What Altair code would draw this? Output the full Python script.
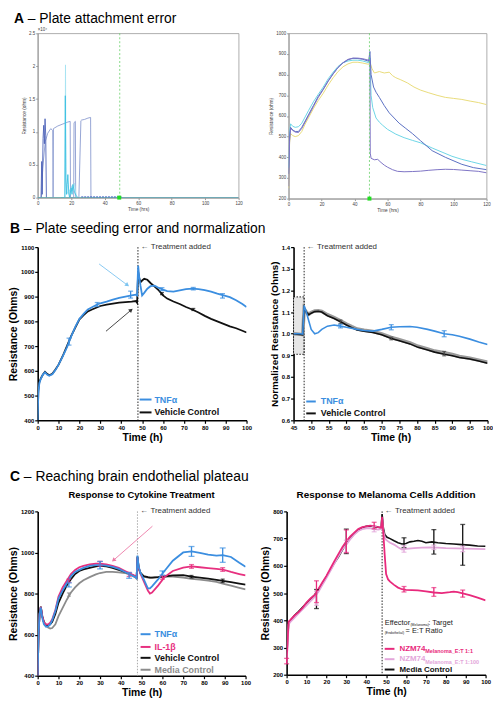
import altair as alt
import pandas as pd

FONT = "Liberation Sans"
BLUE = "#3b8ee0"
BLACK = "#111111"
PINK = "#e7307f"
GRAY = "#8c8c8c"
NZ1 = "#e8297c"
NZ100 = "#e3a6da"

# ---------------- Panel A left (x 10^4 ohm) ----------------
A1_slate_t = [0, 2.2, 3.0, 4.5, 6, 7.8, 9.0, 9.2, 9.4, 12, 15, 18, 19.4, 19.6, 21.5, 21.7, 22.5, 22.7, 24.6, 25.8, 26.2, 28, 30, 31.6, 31.8, 120]
A1_slate_v = [0, 0, 0.45, 0.85, 0.98, 1.05, 1.02, 0, 1.05, 1.09, 1.12, 1.15, 1.16, 0, 0, 1.14, 1.16, 0, 0, 1.17, 1.18, 1.19, 1.21, 1.22, 0, 0]
A1_dark_t = [2.0, 2.4, 2.7, 3.2, 3.6, 4.0, 4.4, 4.8, 5.2]
A1_dark_v = [0, 0.55, 0.05, 0.9, 1.1, 0.82, 1.2, 0.95, 0]
A1_cyan_t = [14, 16.2, 16.5, 16.8, 17.2, 17.6, 18, 18.5, 19, 20, 20.5, 21, 22, 23, 24]
A1_cyan_v = [0, 0, 1.55, 0.3, 0.05, 0.2, 0.35, 0.1, 0, 0.15, 0.05, 0.2, 0.08, 0.03, 0]
A1_lcyan_t = [15.5, 16.3, 16.6, 16.9, 17.5, 18.2, 19, 19.5, 20.2, 21, 22, 23]
A1_lcyan_v = [0, 0, 2.02, 0.25, 0.1, 0.05, 0.12, 0.05, 0.18, 0.1, 0.22, 0]
A1_base_t = [0, 120]
A1_base_v = [0, 0]
A1_bblue_t = [26, 50]
A1_bblue_v = [0.01, 0.01]

# ---------------- Panel A right (ohm) ----------------
A2_pre_t = [0, 0.6, 1.2, 2.5, 4, 6, 8, 10, 12, 15, 18, 21, 24, 27, 30, 33, 36, 39, 42, 45, 48.5]
A2_blue_pre = [320, 500, 545, 532, 525, 525, 545, 575, 605, 650, 695, 730, 770, 805, 835, 857, 872, 879, 878, 874, 865]
A2_purple_pre = [260, 480, 540, 530, 522, 520, 540, 570, 600, 645, 690, 728, 768, 803, 835, 858, 874, 880, 880, 877, 870]
A2_cyan_pre = [350, 520, 562, 550, 545, 548, 565, 595, 625, 668, 705, 740, 780, 812, 840, 858, 866, 870, 870, 866, 858]
A2_yellow_pre = [250, 470, 515, 505, 500, 505, 525, 560, 590, 635, 675, 710, 750, 785, 815, 838, 852, 860, 860, 856, 850]
A2_blue_post_t = [49.3, 50, 51.5, 53, 55, 58, 61, 64, 67, 71, 75, 80, 87, 95, 105, 112, 120]
A2_blue_post = [912, 800, 740, 715, 690, 650, 615, 590, 565, 540, 515, 480, 432, 400, 366, 350, 340]
A2_cyan_post_t = [49.3, 50, 51, 53, 55, 57, 60, 65, 70, 75, 80, 87, 93, 99, 105, 111, 120]
A2_cyan_post = [880, 700, 640, 590, 570, 555, 535, 512, 495, 482, 470, 445, 425, 405, 390, 378, 360]
A2_yellow_post_t = [49.3, 50.5, 52, 55, 58, 61, 63, 65, 68, 72, 76, 80, 85, 90, 95, 100, 105, 110, 115, 120]
A2_yellow_post = [860, 830, 808, 815, 808, 812, 795, 785, 775, 760, 740, 725, 712, 700, 690, 685, 680, 672, 665, 655]
A2_purple_post_t = [49.3, 49.5, 50, 52, 54, 56, 58, 60, 63, 66, 70, 75, 80, 85, 90, 95, 100, 105, 110, 115, 120]
A2_purple_post = [870, 420, 395, 388, 390, 375, 362, 352, 340, 332, 330, 331, 333, 337, 340, 342, 341, 338, 335, 332, 325]

# ---------------- Panel B left (ohm) ----------------
B1_t = [0, 0.3, 0.8, 1.5, 2.5, 3.5, 4.5, 5.5, 7, 8.5, 10, 12, 14, 16, 18, 20, 22, 24, 26, 28, 30, 33, 36, 39, 42,
        45, 47, 47.6, 48.1, 48.6, 49.2, 50, 51, 52.5, 54, 56, 58, 60, 62, 65, 68, 71, 74, 77, 80, 83, 86, 89, 92, 95, 98, 100]
B1_vehicle = [400, 520, 555, 570, 585, 596, 588, 582, 588, 605, 625, 660, 700, 740, 775, 808, 825, 840, 848, 855, 862, 868, 872, 876, 878,
              880, 882, 875, 1000, 975, 958, 965, 972, 968, 955, 940, 925, 905, 892, 880, 870, 858, 848, 836, 822, 810, 800, 790, 780, 772, 762, 755]
B1_tnf = [400, 510, 550, 568, 585, 594, 585, 580, 586, 603, 625, 658, 695, 738, 778, 810, 830, 848, 857, 866, 873, 880, 888, 895, 900,
          905, 908, 905, 1025, 980, 945, 905, 915, 932, 942, 944, 935, 928, 922, 920, 925, 930, 932, 930, 926, 920, 912, 905, 898, 885, 870, 858]
B1_tnf_err_t = [15, 28.5, 44.5, 59.5, 74.5, 88.5]
B1_tnf_err_lo = [704, 860, 894, 924, 927, 894]
B1_tnf_err_hi = [732, 876, 922, 936, 937, 912]
B1_veh_err_t = [59.5, 74.5]
B1_veh_err_lo = [908, 844]
B1_veh_err_hi = [916, 852]

# ---------------- Panel B right (normalized) ----------------
B2_veh_t = [45, 46, 47, 47.6, 48, 48.6, 49.3, 50, 51, 52, 53, 54.6, 56.5, 58.3, 60, 61.5, 63, 65, 67.5, 70, 72.7, 75, 78, 80.3, 83, 85, 87.7, 90, 92, 95, 97.5, 100]
B2_veh_v = [1.0, 0.998, 0.996, 0.995, 1.12, 1.1, 1.088, 1.095, 1.102, 1.104, 1.1, 1.083, 1.07, 1.055, 1.04, 1.028, 1.017, 1.012, 1.006, 0.995, 0.978, 0.968, 0.953, 0.937, 0.925, 0.915, 0.905, 0.898, 0.89, 0.883, 0.874, 0.864]
B2_veh_shadow = [1.0, 0.999, 0.997, 0.996, 1.115, 1.1, 1.09, 1.098, 1.105, 1.106, 1.103, 1.088, 1.075, 1.06, 1.045, 1.033, 1.022, 1.016, 1.01, 0.999, 0.983, 0.972, 0.958, 0.942, 0.93, 0.92, 0.912, 0.904, 0.895, 0.887, 0.878, 0.868]
B2_tnf_t = [45, 46, 47, 47.6, 48, 48.6, 49.3, 50, 51, 52, 53, 54.6, 56.5, 58.3, 60, 63, 65, 67.5, 70, 72.7, 75, 78, 80, 83, 85, 87.7, 90, 92, 95, 97.5, 100]
B2_tnf_v = [1.0, 1.0, 1.0, 0.998, 1.13, 1.1, 1.06, 1.02, 1.0, 1.005, 1.02, 1.035, 1.04, 1.035, 1.03, 1.02, 1.015, 1.012, 1.02, 1.03, 1.032, 1.033, 1.03, 1.02, 1.012, 1.0, 0.995, 0.988, 0.975, 0.962, 0.95]
B2_err_t = [58.3, 72.7, 87.7]
B2_tnf_lo = [1.027, 1.018, 0.986]
B2_tnf_hi = [1.043, 1.042, 1.014]
B2_veh_lo = [1.047, 0.972, 0.898]
B2_veh_hi = [1.063, 0.984, 0.918]
B2_box_x = [45, 48]
B2_box_y = [0.905, 1.17]

# ---------------- Panel C left (ohm) ----------------
C1_t = [0, 0.4, 0.9, 1.5, 2.2, 3, 4, 5, 6, 7, 8.5, 10, 12, 14, 16, 18, 20, 22, 25, 28, 30, 33, 36, 39, 42, 45, 47, 47.6,
        48, 48.6, 49.5, 51, 53, 54, 55, 58, 61, 65, 70, 74, 78, 82, 86, 89, 93, 97, 100]
C1_vehicle = [400, 600, 700, 735, 690, 660, 648, 645, 650, 662, 700, 755, 800, 840, 870, 895, 910, 918, 925, 932, 935, 932, 925, 915, 905, 893, 883, 878,
              980, 925, 900, 885, 880, 878, 878, 880, 883, 888, 890, 882, 878, 873, 867, 862, 855, 848, 843]
C1_media = [400, 600, 700, 738, 690, 660, 645, 635, 630, 632, 650, 690, 730, 770, 805, 830, 850, 865, 880, 893, 900, 905, 905, 903, 900, 890, 878, 872,
            975, 920, 895, 882, 878, 878, 878, 880, 882, 882, 878, 872, 868, 863, 857, 848, 838, 828, 820]
C1_tnf = [400, 600, 700, 732, 680, 650, 638, 640, 650, 670, 715, 775, 815, 850, 885, 905, 915, 925, 935, 938, 938, 936, 930, 920, 905, 890, 880, 875,
          985, 930, 900, 870, 825, 825, 835, 870, 910, 960, 1000, 1005, 998, 990, 985, 987, 978, 950, 930]
C1_il1 = [400, 600, 700, 735, 690, 660, 650, 650, 658, 675, 720, 785, 830, 862, 895, 915, 928, 935, 942, 945, 945, 942, 935, 925, 910, 895, 885, 880,
          975, 925, 895, 860, 815, 800, 805, 840, 880, 910, 926, 932, 928, 924, 920, 917, 905, 895, 888]
C1_err_t = [15, 30, 44, 60, 74, 89]
C1_tnf_lo = [832, 920, 874, 890, 981, 952]
C1_tnf_hi = [852, 956, 902, 910, 1029, 1022]
C1_il1_lo = [854, 933, 883, 870, 923, 908]
C1_il1_hi = [870, 957, 903, 886, 941, 926]
C1_veh_err_t = [74, 89]
C1_veh_lo = [876, 854]
C1_veh_hi = [888, 870]
C1_med_err_t = [15]
C1_med_lo = [787]
C1_med_hi = [803]

# ---------------- Panel C right (ohm) ----------------
C2_media_t = [0, 0.5, 1, 2, 4, 6, 8, 10, 12, 14, 16, 18, 20, 22, 24, 26, 28, 30, 32, 34, 36, 38, 40, 42, 44, 46, 47.5, 48, 48.6, 49.3,
              50.5, 52, 54, 56, 58, 60, 62, 64, 66, 68, 70, 73, 76, 80, 84, 88, 92, 96, 100]
C2_media_v = [250, 330, 390, 400, 418, 432, 448, 463, 478, 493, 512, 535, 560, 585, 610, 632, 658, 683, 700, 718, 730, 740, 745, 746, 744, 742, 740, 790, 740, 715,
              705, 700, 692, 685, 680, 682, 688, 690, 693, 690, 685, 688, 685, 682, 680, 678, 676, 673, 672]
C2_nz1_t = [0, 1, 2, 4, 6, 8, 10, 12, 14, 16, 18, 20, 22, 24, 26, 28, 30, 32, 34, 36, 38, 40, 42, 44, 46, 47.5, 48, 48.6, 49.3, 50,
            51, 52, 54, 56, 58, 60, 63, 66, 70, 74, 78, 82, 84, 86, 89, 92, 96, 100]
C2_nz1_v = [250, 395, 402, 418, 430, 445, 465, 480, 492, 515, 540, 563, 590, 617, 643, 668, 690, 708, 722, 735, 742, 745, 748, 746, 742, 740, 780, 720, 640, 570,
            550, 542, 530, 520, 514, 512, 511, 510, 506, 502, 500, 503, 505, 503, 498, 492, 483, 473]
C2_nz100_t = [0, 1, 2, 4, 6, 8, 10, 12, 14, 16, 18, 20, 22, 24, 26, 28, 30, 32, 34, 36, 38, 40, 42, 44, 46, 47.5, 48, 48.6, 49.3, 50,
              52, 54, 56, 58, 60, 64, 68, 72, 76, 80, 85, 90, 95, 100]
C2_nz100_v = [240, 385, 395, 410, 425, 440, 455, 470, 485, 505, 530, 555, 582, 608, 635, 660, 678, 698, 715, 728, 735, 738, 738, 735, 733, 735, 770, 730, 705, 695,
              685, 678, 668, 660, 662, 665, 667, 668, 667, 665, 664, 663, 662, 661]
C2_nz1_err_t = [0, 15, 30, 44, 59, 74, 88.5]
C2_nz1_lo = [240, 465, 648, 736, 504, 488, 485]
C2_nz1_hi = [260, 545, 732, 760, 524, 520, 511]
C2_nz100_err_t = [15, 30, 44, 59, 74, 88.5]
C2_nz100_lo = [455, 650, 725, 650, 660, 652]
C2_nz100_hi = [505, 694, 745, 674, 676, 672]
C2_med_err_t = [15, 30, 59, 74, 88.5]
C2_med_lo = [443, 645, 667, 643, 602]
C2_med_hi = [513, 735, 703, 733, 752]


# ================= helpers =================
def make_xy(xdom, ydom, xaxis, yaxis):
    xs = alt.Scale(domain=xdom, nice=False, zero=False)
    ys = alt.Scale(domain=ydom, nice=False, zero=False)

    def X(f):
        return alt.X(f, type="quantitative", scale=xs, axis=xaxis)

    def Y(f):
        return alt.Y(f, type="quantitative", scale=ys, axis=yaxis)
    return X, Y


def line(t, v, color, width, X, Y, dash=None, opacity=1.0):
    df = pd.DataFrame({"t": t, "v": v, "i": list(range(len(t)))})
    kw = dict(color=color, strokeWidth=width, clip=True, opacity=opacity)
    if dash:
        kw["strokeDash"] = dash
    return alt.Chart(df).mark_line(**kw).encode(x=X("t"), y=Y("v"), order="i:Q")


def errbars(t, lo, hi, color, X, Y, cap=5, width=1.3):
    df = pd.DataFrame({"t": t, "lo": lo, "hi": hi})
    bar = alt.Chart(df).mark_rule(color=color, strokeWidth=width).encode(x=X("t"), y=Y("lo"), y2="hi:Q")
    c1 = alt.Chart(df).mark_tick(color=color, orient="horizontal", size=cap, thickness=width).encode(x=X("t"), y=Y("lo"))
    c2 = alt.Chart(df).mark_tick(color=color, orient="horizontal", size=cap, thickness=width).encode(x=X("t"), y=Y("hi"))
    return [bar, c1, c2]


def treatment(tval, yval, X, Y, color="#222"):
    df = pd.DataFrame({"t": [tval], "v": [yval], "label": ["← Treatment added"]})
    rule = alt.Chart(df).mark_rule(color=color, strokeDash=[1.5, 1.5], strokeWidth=1).encode(x=X("t"))
    txt = alt.Chart(df).mark_text(align="left", baseline="middle", dx=3, fontSize=8, color="#333").encode(
        x=X("t"), y=Y("v"), text="label:N")
    return [rule, txt]


def arrow(x1, y1, x2, y2, ang, color, X, Y):
    df = pd.DataFrame({"x1": [x1], "y1": [y1], "x2": [x2], "y2": [y2], "ang": [ang]})
    r = alt.Chart(df).mark_rule(color=color, strokeWidth=0.9).encode(x=X("x1"), y=Y("y1"), x2="x2:Q", y2="y2:Q")
    h = alt.Chart(df).mark_point(shape="triangle", filled=True, size=22, color=color, opacity=1).encode(
        x=X("x2"), y=Y("y2"), angle=alt.Angle("ang:Q", scale=None))
    return [r, h]


def legend(x1, x2, xt, ys, labels, colors, X, Y, size=9):
    df = pd.DataFrame({"x1": [x1] * len(ys), "x2": [x2] * len(ys), "xt": [xt] * len(ys), "y": ys,
                       "label": labels, "col": colors})
    r = alt.Chart(df).mark_rule(strokeWidth=2).encode(x=X("x1"), x2="x2:Q", y=Y("y"),
                                                       color=alt.Color("col:N", scale=None))
    t = alt.Chart(df).mark_text(align="left", baseline="middle", fontWeight="bold", fontSize=size).encode(
        x=X("xt"), y=Y("y"), text="label:N", color=alt.Color("col:N", scale=None))
    return [r, t]


def section(letter, rest, x, y):
    df = pd.DataFrame({"a": [letter], "b": [rest]})
    a = alt.Chart(df).mark_text(align="left", baseline="alphabetic", fontSize=14, fontWeight="bold",
                                color="black").encode(x=alt.value(x), y=alt.value(y), text="a:N")
    b = alt.Chart(df).mark_text(align="left", baseline="alphabetic", fontSize=14, fontWeight="normal",
                                color="black").encode(x=alt.value(x + 14), y=alt.value(y), text="b:N")
    return [a, b]


def a_axis(title, values, fmt="d"):
    return alt.Axis(title=title, values=values, format=fmt, labelFontSize=4.5, titleFontSize=4.8,
                    labelColor="#444", titleColor="#444", domainColor="#999", tickColor="#999", tickSize=2,
                    labelPadding=1, titlePadding=2, grid=False, titleFontWeight="normal",
                    labelOverlap=False, labelFlush=False)


def bc_axis(title, values, fmt="d", tsize=10.5):
    return alt.Axis(title=title, values=values, format=fmt, labelFontSize=6, labelFontWeight="bold",
                    labelColor="black", titleFontSize=tsize, titleFontWeight="bold", titleColor="black",
                    domainColor="black", domainWidth=1.6, tickColor="black", tickWidth=1.2, tickSize=3,
                    labelPadding=1, titlePadding=2, grid=False, labelOverlap=False, labelFlush=False)


A_FRAME = alt.ViewBackground(stroke="#999999", strokeWidth=0.8)

# ================= Panel A left =================
X, Y = make_xy([0, 120], [0, 2.5], a_axis("Time (hrs)", list(range(0, 121, 20))),
               a_axis("Resistance (ohm)", [0, 0.5, 1, 1.5, 2, 2.5], "~g"))
gA = pd.DataFrame({"t": [49], "v": [0], "m": [48.7], "top": [2.5], "lab": ["×10⁴"]})
layersA1 = [
    line(A1_slate_t, A1_slate_v, "#8a9bd0", 0.9, X, Y),
    line(A1_dark_t, A1_dark_v, "#4d63b8", 0.9, X, Y),
    line(A1_lcyan_t, A1_lcyan_v, "#a6e3f2", 0.9, X, Y),
    line(A1_cyan_t, A1_cyan_v, "#3cc0e2", 0.9, X, Y),
    line(A1_base_t, A1_base_v, "#3aa5a8", 1.2, X, Y),
    line(A1_bblue_t, A1_bblue_v, "#3050c0", 1.0, X, Y, dash=[2, 1]),
    alt.Chart(gA).mark_rule(color="#66d066", strokeDash=[2, 2], strokeWidth=0.8).encode(x=X("t")),
    alt.Chart(gA).mark_square(color="#22dd22", size=16, opacity=1).encode(x=X("m"), y=Y("v")),
    alt.Chart(gA).mark_text(align="left", baseline="bottom", fontSize=4.5, color="#444", dy=-1).encode(
        x=alt.value(0), y=Y("top"), text="lab:N"),
] + section("A", "– Plate attachment error", -24, -10) \
  + section("B", "– Plate seeding error and normalization", -28, 202)
A_left = alt.layer(*layersA1).properties(width=203, height=166, view=A_FRAME)

# ================= Panel A right =================
X, Y = make_xy([0, 120], [200, 1000], a_axis("Time (hrs)", list(range(0, 121, 20))),
               a_axis("Resistance (ohm)", list(range(200, 1001, 100))))
gA2 = pd.DataFrame({"t": [49], "m": [49], "v": [200]})
layersA2 = [
    line(A2_pre_t + A2_yellow_post_t, A2_yellow_pre + A2_yellow_post, "#e9dc7a", 1.0, X, Y),
    line(A2_pre_t + A2_cyan_post_t, A2_cyan_pre + A2_cyan_post, "#6dd6e6", 1.0, X, Y),
    line(A2_pre_t + A2_blue_post_t, A2_blue_pre + A2_blue_post, "#5a6fc2", 1.0, X, Y),
    line(A2_pre_t + A2_purple_post_t, A2_purple_pre + A2_purple_post, "#7d73c4", 1.0, X, Y),
    alt.Chart(gA2).mark_rule(color="#66d066", strokeDash=[2, 2], strokeWidth=0.8).encode(x=X("t")),
    alt.Chart(gA2).mark_square(color="#22dd22", size=16, opacity=1).encode(x=X("m"), y=Y("v")),
]
A_right = alt.layer(*layersA2).properties(width=200, height=167, view=A_FRAME)

# ================= Panel B left =================
X, Y = make_xy([0, 100], [400, 1100], bc_axis("Time (h)", list(range(0, 101, 10))),
               bc_axis("Resistance (Ohms)", list(range(400, 1101, 100))))
layersB1 = treatment(48, 1100, X, Y) + [
    line(B1_t, B1_vehicle, BLACK, 1.8, X, Y),
    line(B1_t, B1_tnf, BLUE, 1.8, X, Y),
] + errbars(B1_veh_err_t, B1_veh_err_lo, B1_veh_err_hi, BLACK, X, Y, cap=4) \
  + errbars(B1_tnf_err_t, B1_tnf_err_lo, B1_tnf_err_hi, BLUE, X, Y, cap=5) \
  + arrow(29.4, 1032, 42.7, 948, 127, "#7cc4f0", X, Y) \
  + arrow(32.7, 760, 44.5, 844, 50, "#333333", X, Y) \
  + legend(48.8, 54.5, 55.9, [484, 432], ["TNFα", "Vehicle Control"], [BLUE, BLACK], X, Y) \
  + section("C", "– Reaching brain endothelial plateau", -28, 236)
B_left = alt.layer(*layersB1).properties(width=211, height=175)

# ================= Panel B right =================
X, Y = make_xy([45, 100], [0.6, 1.4], bc_axis("Time (h)", list(range(45, 101, 5))),
               bc_axis("Normalized Resistance (Ohms)", [0.6, 0.7, 0.8, 0.9, 1.0, 1.1, 1.2, 1.3, 1.4], ".1f", tsize=10))
box = pd.DataFrame({"x1": [B2_box_x[0]], "x2": [B2_box_x[1]], "y1": [B2_box_y[0]], "y2": [B2_box_y[1]]})
layersB2 = [
    alt.Chart(box).mark_rect(fill="#e6e6e6", stroke="black", strokeDash=[1.5, 1.5], strokeWidth=0.9).encode(
        x=X("x1"), x2="x2:Q", y=Y("y1"), y2="y2:Q"),
] + treatment(48, 1.4, X, Y) + [
    line(B2_veh_t, B2_veh_shadow, "#9a9a9a", 3.5, X, Y),
    line(B2_veh_t, B2_veh_v, BLACK, 1.6, X, Y),
    line(B2_tnf_t, B2_tnf_v, BLUE, 1.6, X, Y),
] + errbars(B2_err_t, B2_veh_lo, B2_veh_hi, "#444444", X, Y, cap=4) \
  + errbars(B2_err_t, B2_tnf_lo, B2_tnf_hi, BLUE, X, Y, cap=5) \
  + legend(48.6, 51.3, 52.7, [0.687, 0.632], ["TNFα", "Vehicle Control"], [BLUE, BLACK], X, Y)
B_right = alt.layer(*layersB2).properties(width=196, height=175)

# ================= Panel C left =================
X, Y = make_xy([0, 100], [400, 1200], bc_axis("Time (h)", list(range(0, 101, 10))),
               bc_axis("Resistance (Ohms)", list(range(400, 1201, 200))))
layersC1 = treatment(48, 1200, X, Y, color="#aaaaaa") + [
    line(C1_t, C1_media, GRAY, 1.8, X, Y),
    line(C1_t, C1_vehicle, BLACK, 1.8, X, Y),
    line(C1_t, C1_il1, PINK, 1.8, X, Y),
    line(C1_t, C1_tnf, BLUE, 1.8, X, Y),
] + errbars(C1_med_err_t, C1_med_lo, C1_med_hi, GRAY, X, Y, cap=4) \
  + errbars(C1_veh_err_t, C1_veh_lo, C1_veh_hi, BLACK, X, Y, cap=4) \
  + errbars(C1_err_t, C1_il1_lo, C1_il1_hi, PINK, X, Y, cap=5) \
  + errbars(C1_err_t, C1_tnf_lo, C1_tnf_hi, BLUE, X, Y, cap=6) \
  + arrow(55.2, 1128, 36.7, 964, 229, "#ec7aa6", X, Y) \
  + legend(49.5, 54.3, 56.2, [602, 540, 487, 429], ["TNFα", "IL-1β", "Vehicle Control", "Media Control"],
           [BLUE, PINK, BLACK, GRAY], X, Y)
C_left = alt.layer(*layersC1).properties(
    width=210, height=166,
    title=alt.TitleParams("Response to Cytokine Treatment", fontSize=9.5, fontWeight="bold", anchor="middle",
                          offset=8, color="black"))

# ================= Panel C right =================
X, Y = make_xy([0, 100], [200, 800], bc_axis("Time (h)", list(range(0, 101, 10))),
               bc_axis("Resistance (Ohms)", list(range(200, 801, 100))))
hdr = pd.DataFrame({"x": [49.3], "y1": [389], "y2": [360],
                    "a": ["Effector"], "b": ["(Melanoma)"], "c": [": Target"],
                    "d": ["(Endothelial)"], "e": ["= E:T Ratio"]})


def htext(field, yf, size, dx, dy=0, weight="normal", color="#222"):
    return alt.Chart(hdr).mark_text(align="left", baseline="middle", fontSize=size, dx=dx, dy=dy,
                                    fontWeight=weight, color=color).encode(x=X("x"), y=Y(yf), text=field + ":N")


leg2 = pd.DataFrame({"x1": [49.3, 49.3, 49.3], "x2": [54.2, 54.2, 54.2], "xt": [56.7, 56.7, 56.7],
                     "y": [295, 257, 219], "main": ["NZM74", "NZM74", "Media Control"],
                     "sub": ["Melanoma_E:T 1:1", "Melanoma_E:T 1:100", ""], "col": [NZ1, NZ100, BLACK]})
layersC2 = treatment(48, 800, X, Y) + [
    line(C2_media_t, C2_media_v, BLACK, 1.6, X, Y),
    line(C2_nz100_t, C2_nz100_v, NZ100, 1.8, X, Y),
    line(C2_nz1_t, C2_nz1_v, NZ1, 1.8, X, Y),
] + errbars(C2_med_err_t, C2_med_lo, C2_med_hi, BLACK, X, Y, cap=5) \
  + errbars(C2_nz100_err_t, C2_nz100_lo, C2_nz100_hi, NZ100, X, Y, cap=5) \
  + errbars(C2_nz1_err_t, C2_nz1_lo, C2_nz1_hi, NZ1, X, Y, cap=5) + [
    htext("a", "y1", 7.5, 0),
    htext("b", "y1", 3.5, 26, dy=2),
    htext("c", "y1", 7.5, 44),
    htext("d", "y2", 3.5, 0, dy=2),
    htext("e", "y2", 7.5, 21),
    alt.Chart(leg2).mark_rule(strokeWidth=2).encode(x=X("x1"), x2="x2:Q", y=Y("y"),
                                                     color=alt.Color("col:N", scale=None)),
    alt.Chart(leg2).mark_text(align="left", baseline="middle", fontSize=8, fontWeight="bold").encode(
        x=X("xt"), y=Y("y"), text="main:N", color=alt.Color("col:N", scale=None)),
    alt.Chart(leg2).mark_text(align="left", baseline="middle", fontSize=5.5, fontWeight="bold", dx=26, dy=2.5).encode(
        x=X("xt"), y=Y("y"), text="sub:N", color=alt.Color("col:N", scale=None)),
]
C_right = alt.layer(*layersC2).properties(
    width=201, height=165,
    title=alt.TitleParams("Response to Melanoma Cells Addition", fontSize=10, fontWeight="bold", anchor="middle",
                          offset=8, color="black"))

rowA = alt.hconcat(A_left, A_right, spacing=50.5, bounds="flush")
rowB = alt.hconcat(B_left, B_right, spacing=47.5, bounds="flush")
rowC = alt.hconcat(C_left, C_right, spacing=41.5, bounds="flush")

chart = alt.vconcat(rowA, rowB, rowC, spacing=6).properties(
    padding={"left": 0, "top": 0, "right": 0, "bottom": 0}
).configure(font=FONT).configure_view(stroke=None)

chart.save("out.html", embed_options={"renderer": "svg", "actions": False})
